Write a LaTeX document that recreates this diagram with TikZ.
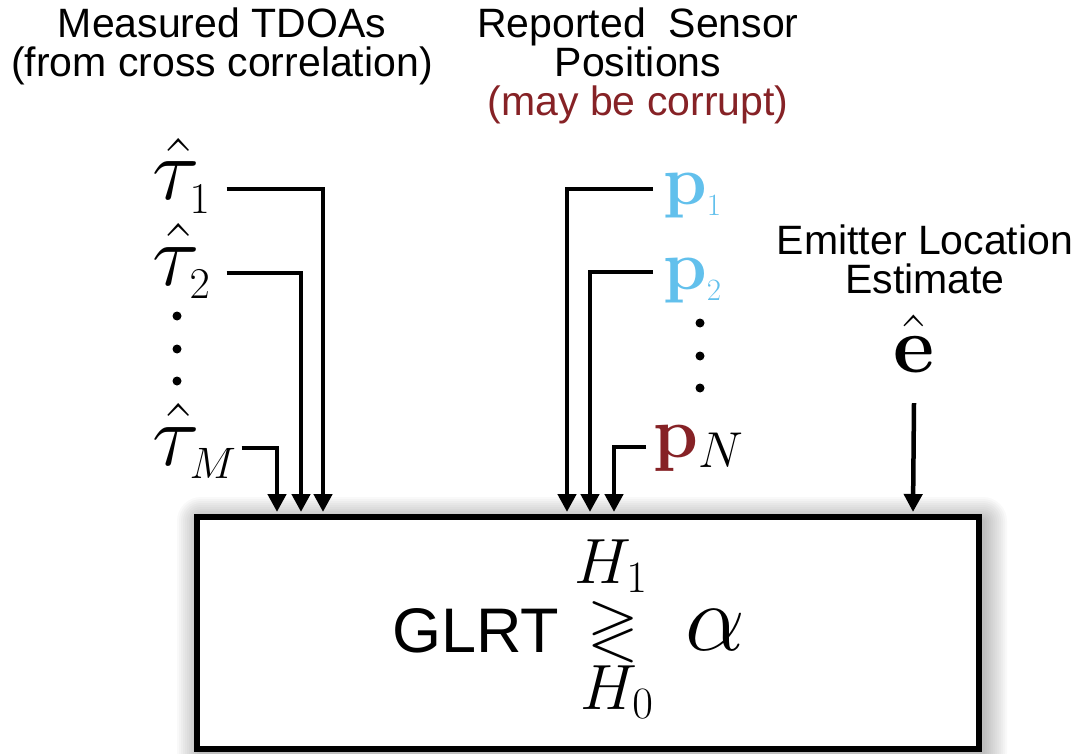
\RequirePackage{fix-cm}
\documentclass[tikz,border=0pt]{standalone}
\usepackage{amsmath,amssymb}
\usepackage[no-math]{fontspec}
\setmainfont{Liberation Sans}
\usetikzlibrary{arrows.meta}
\definecolor{sensorblue}{RGB}{98,192,236}
\definecolor{corruptred}{RGB}{134,34,38}
\tikzset{
    feed/.style={line width=4.5pt,-{Triangle[width=18pt,length=18pt]}},
    caption/.style={align=center,font=\fontsize{41}{39}\selectfont},
    sym/.style={inner sep=0pt},
}
\newcommand{\tinysub}[1]{\hbox{\fontsize{31}{31}\selectfont$#1$}}
\begin{document}
\begin{tikzpicture}[x=1pt,y=-1pt]
    \useasboundingbox (0,0) rectangle (1082,754);
    \node[caption] (tdoa) at (222,46) {Measured TDOAs\\(from cross correlation)};
    \node[caption] (reported) at (638,66) {Reported\ \ Sensor\\Positions\\\textcolor{corruptred}{(may be corrupt)}};
    \node[caption] (emitter) at (925,259) {Emitter Location\\Estimate};
    \node[sym,anchor=base,font=\fontsize{80}{80}\selectfont] (ehat) at (914,372) {$\hat{\mathbf{e}}$};
    \node[sym,anchor=base west,font=\fontsize{88}{88}\selectfont] (tau1) at (152,200) {$\hat{\tau}_{\scriptscriptstyle 1}$};
    \node[sym,anchor=base west,font=\fontsize{88}{88}\selectfont] (tau2) at (152,285) {$\hat{\tau}_{\scriptscriptstyle 2}$};
    \node[sym,anchor=base west,font=\fontsize{88}{88}\selectfont] (tauM) at (152,465) {$\hat{\tau}_{\scriptscriptstyle M}$};
    \node[sym,anchor=base west,font=\fontsize{70}{70}\selectfont,text=sensorblue] (p1) at (663,205) {$\mathbf{p}_{\tinysub{1}}$};
    \node[sym,anchor=base west,font=\fontsize{70}{70}\selectfont,text=sensorblue] (p2) at (663,290) {$\mathbf{p}_{\tinysub{2}}$};
    \node[sym,anchor=base west,font=\fontsize{72}{72}\selectfont,text=corruptred] (pN) at (653,457) {$\mathbf{p}_{\textcolor{black}{N}}$};
    \foreach\yy in{316,349,381}{
        \fill (177,\yy) circle (4.5);
        \fill (700,\yy+7) circle (4.5);
    }
    \foreach\k in{1,2,...,12}{
        \fill[black,opacity=0.022,rounded corners=\k*2pt] (201-\k*2,521-\k*2) rectangle (983+\k*2,753+\k*2);
    }
    \node[draw,fill=white,line width=6pt,minimum width=782pt,minimum height=232pt] (glrt) at (588,633) {};
    \node[sym,anchor=base,font=\fontsize{63}{63}\selectfont] (glrtlabel) at (476,652) {GLRT};
    \node[sym,font=\fontsize{66}{66}\selectfont] (test) at (613,630) {$\gtrless$};
    \node[sym,font=\fontsize{64}{64}\selectfont] (h1) at (611,566) {$H_1$};
    \node[sym,font=\fontsize{64}{64}\selectfont] (h0) at (617,692) {$H_0$};
    \node[sym,font=\fontsize{95}{95}\selectfont] (alpha) at (715,630) {$\alpha$};
    \foreach\nm/\xx in{t1/323,t2/301,tM/277,s1/567,s2/590,sN/614,e/913}{
        \coordinate (in\nm) at (\xx,512);
    }
    \draw[feed] ([shift={(16,-11)}]tau1.base east) -| (int1);
    \draw[feed] ([shift={(16,-12)}]tau2.base east) -| (int2);
    \draw[feed] ([shift={(5,-17)}]tauM.base east) -| (intM);
    \draw[feed] ([shift={(-10,-16)}]p1.base west) -| (ins1);
    \draw[feed] ([shift={(-10,-18)}]p2.base west) -| (ins2);
    \draw[feed] ([shift={(-7,-10)}]pN.base west) -| (insN);
    \draw[feed] ([shift={(0,31)}]ehat.south) -- (ine);
\end{tikzpicture}
\end{document}
